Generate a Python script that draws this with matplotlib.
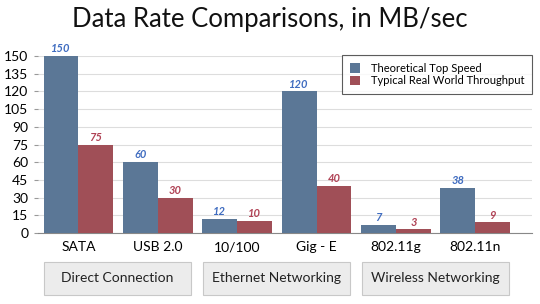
import matplotlib
matplotlib.use("Agg")
import matplotlib.pyplot as plt
from matplotlib.patches import FancyBboxPatch
import numpy as np

categories = ["SATA", "USB 2.0", "10/100", "Gig - E", "802.11g", "802.11n"]
theoretical = [150, 60, 12, 120, 7, 38]
typical = [75, 30, 10, 40, 3, 9]
groups = ["Direct Connection", "Ethernet Networking", "Wireless Networking"]
yticks = list(range(0, 151, 15))

plt.rcParams['font.family'] = ['Lato', 'DejaVu Sans']

W, H = 540, 304
fig = plt.figure(figsize=(W/100, H/100), dpi=100)
ax = fig.add_axes([38/W, 1-233/H, (532-38)/W, (233-56)/H])

x = np.arange(len(categories))
bw = 0.44
blue = "#5b7796"
red = "#a04f57"
ax.bar(x - bw/2, theoretical, bw, color=blue, label="Theoretical Top Speed", zorder=3)
ax.bar(x + bw/2, typical, bw, color=red, label="Typical Real World Throughput", zorder=3)

for xi, v in zip(x, theoretical):
    ax.text(xi - bw/2, v + 1.5, str(v), ha="center", va="bottom", fontsize=8,
            color="#3f6cc0", fontweight="bold", fontstyle="italic", zorder=4)
for xi, v in zip(x, typical):
    ax.text(xi + bw/2, v + 1.5, str(v), ha="center", va="bottom", fontsize=8,
            color="#b04255", fontweight="bold", fontstyle="italic", zorder=4)

ax.set_xlim(-0.51, 5.715)
ax.set_ylim(0, 150)
ax.set_yticks(yticks)
ax.set_yticklabels([str(t) for t in yticks], fontsize=10)
ax.set_xticks(x)
ax.set_xticklabels(categories, fontsize=10)
ax.tick_params(axis="x", length=0, pad=6)
ax.tick_params(axis="y", length=3, color="#999999", pad=4)
ax.grid(axis="y", color="#dddddd", linewidth=0.8, zorder=0)
for s in ["top", "right", "left"]:
    ax.spines[s].set_visible(False)
ax.spines["bottom"].set_color("#888888")

leg = fig.legend(loc="upper right", bbox_to_anchor=(532/W, 1-55/H),
                 bbox_transform=fig.transFigure, fontsize=8,
                 frameon=True, fancybox=False, edgecolor="#333333",
                 handlelength=0.9, handleheight=0.9, borderpad=0.7,
                 labelspacing=0.15, handletextpad=1.0, borderaxespad=0)
leg.get_frame().set_linewidth(0.8)
leg.set_zorder(5)

fig.text(0.5, 1-19/H, "Data Rate Comparisons, in MB/sec", ha="center", va="center",
         fontsize=18.5, color="#111111")

# group boxes
boxes = [(44, 191), (203, 350), (362, 509)]
for (x0, x1), g in zip(boxes, groups):
    p = FancyBboxPatch((x0/W, 1-295/H), (x1-x0)/W, (295-262)/H,
                       boxstyle="square,pad=0", transform=fig.transFigure,
                       facecolor="#ececec", edgecolor="#c8c8c8", linewidth=0.8)
    fig.patches.append(p)
    fig.text((x0+x1)/2/W, 1-278.5/H, g, ha="center", va="center", fontsize=10, color="#222222")

fig.savefig("out.png", dpi=100)
